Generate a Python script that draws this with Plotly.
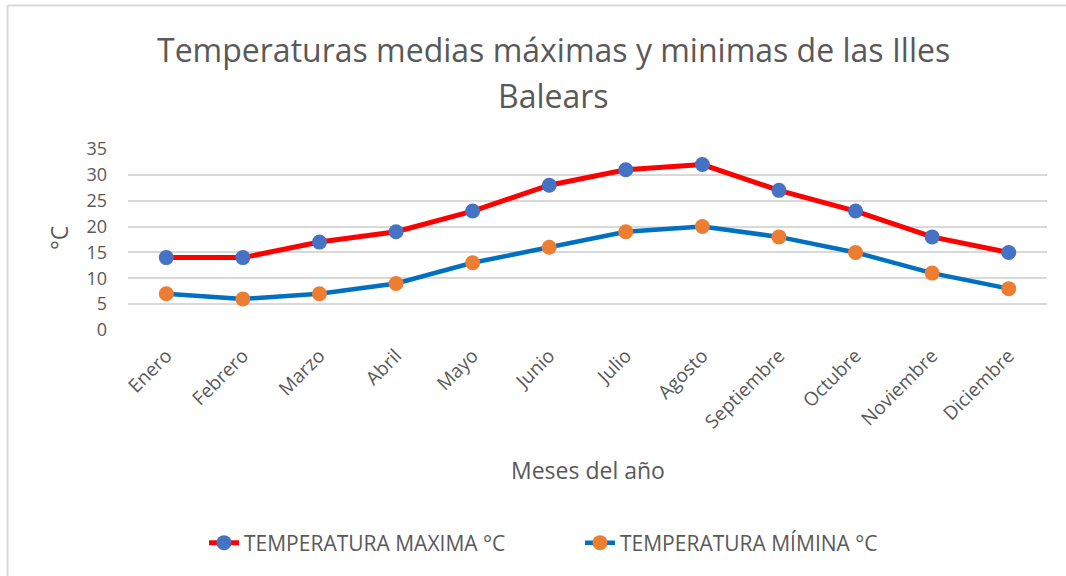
import plotly.graph_objects as go

months = ["Enero", "Febrero", "Marzo", "Abril", "Mayo", "Junio", "Julio",
          "Agosto", "Septiembre", "Octubre", "Noviembre", "Diciembre"]
t_max = [14, 14, 17, 19, 23, 28, 31, 32, 27, 23, 18, 15]
t_min = [7, 6, 7, 9, 13, 16, 19, 20, 18, 15, 11, 8]
y_ticks = [0, 5, 10, 15, 20, 25, 30, 35]

FONT = "Open Sans"
GREY = "#595959"

fig = go.Figure()
fig.add_trace(go.Scatter(
    x=months, y=t_max, mode="lines+markers", name="TEMPERATURA MAXIMA °C",
    line=dict(color="#FF0000", width=5),
    marker=dict(color="#4472C4", size=15),
))
fig.add_trace(go.Scatter(
    x=months, y=t_min, mode="lines+markers", name="TEMPERATURA MÍMINA °C",
    line=dict(color="#0070C0", width=4.5),
    marker=dict(color="#ED7D31", size=15),
))

W, H = 1066, 576
L, R, T, B = 128, 19, 149, 246
pw = W - L - R
ph = H - T - B


def px(x):
    return (x - L) / pw


def py(y):
    return (H - B - y) / ph


fig.update_layout(
    width=W, height=H,
    margin=dict(l=L, r=R, t=T, b=B),
    paper_bgcolor="white", plot_bgcolor="white",
    font=dict(family=FONT, color=GREY),
    showlegend=True,
    legend=dict(
        orientation="h", x=px(204), xanchor="left",
        y=py(543), yanchor="middle",
        font=dict(size=21, color=GREY),
        entrywidth=331, entrywidthmode="pixels",
    ),
    xaxis=dict(
        type="category", tickangle=-45, range=[-0.5, 11.5],
        tickfont=dict(size=19, color=GREY),
        showgrid=False, showline=False, zeroline=False,
        ticks="", ticklabelstandoff=10,
    ),
    yaxis=dict(
        range=[0, 35], tickvals=y_ticks,
        tickfont=dict(size=18, color=GREY),
        showgrid=True, gridcolor="#D9D9D9", gridwidth=1.5,
        zeroline=False, showline=False, ticks="",
        ticklabelstandoff=20,
    ),
    annotations=[
        dict(text="Temperaturas medias máximas y minimas de las Illes",
             xref="paper", yref="paper", x=px(553), y=py(50),
             xanchor="center", yanchor="middle", showarrow=False,
             font=dict(size=32, color=GREY)),
        dict(text="Balears",
             xref="paper", yref="paper", x=px(553), y=py(95),
             xanchor="center", yanchor="middle", showarrow=False,
             font=dict(size=32, color=GREY)),
        dict(text="Meses del año", xref="paper", yref="paper",
             x=px(588), y=py(470), xanchor="center", yanchor="middle",
             showarrow=False, font=dict(size=23, color=GREY)),
        dict(text="°C", xref="paper", yref="paper",
             x=px(59), y=py(238), xanchor="center", yanchor="middle",
             textangle=-90, showarrow=False, font=dict(size=23, color=GREY)),
    ],
    shapes=[
        dict(type="line", xref="paper", yref="paper",
             x0=px(7.5), x1=px(7.5), y0=py(H + 2), y1=py(5.5),
             line=dict(color="#D9D9D9", width=2)),
        dict(type="line", xref="paper", yref="paper",
             x0=px(7.5), x1=px(W + 2), y0=py(5.5), y1=py(5.5),
             line=dict(color="#D9D9D9", width=2)),
    ],
)

fig.write_html("out.html", config={"displayModeBar": False},
               post_script="document.body.style.margin='0';")
